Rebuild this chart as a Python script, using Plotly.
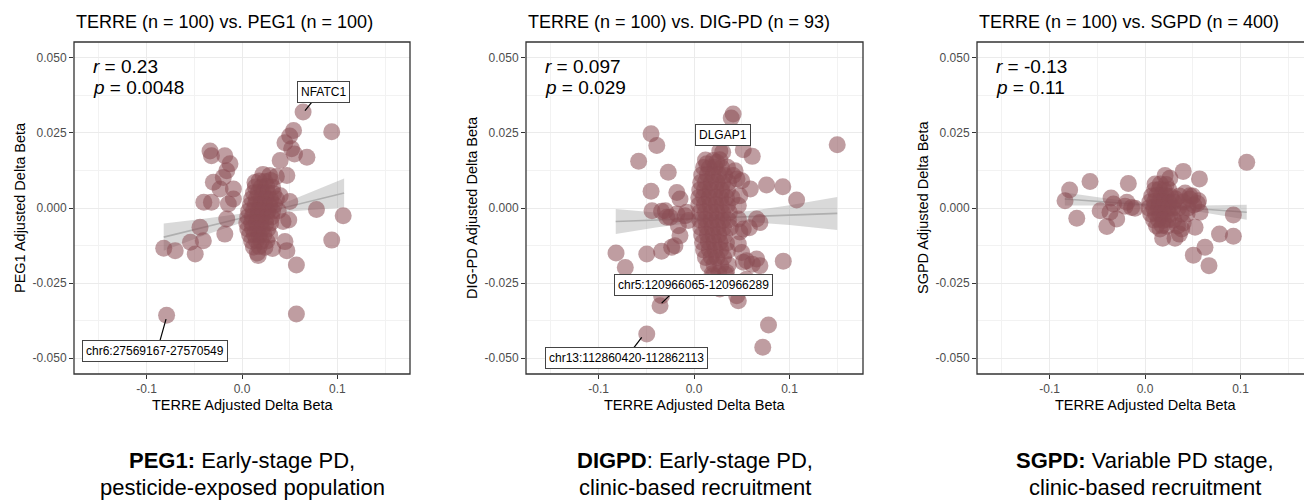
import plotly.graph_objects as go

# ---------------- data ----------------
titles = ["TERRE (n = 100) vs. PEG1 (n = 100)",
          "TERRE (n = 100) vs. DIG-PD (n = 93)",
          "TERRE (n = 100) vs. SGPD (n = 400)"]
y_titles = ["PEG1 Adjusted Delta Beta", "DIG-PD Adjusted Delta Beta", "SGPD Adjusted Delta Beta"]
x_title = "TERRE Adjusted Delta Beta"
r_values = ["0.23", "0.097", "-0.13"]
p_values = ["0.0048", "0.029", "0.11"]
caption_bold = ["PEG1:", "DIGPD", "SGPD:"]
caption_line1 = [" Early-stage PD,", ": Early-stage PD,", " Variable PD stage,"]
caption_line2 = ["pesticide-exposed population", "clinic-based recruitment", "clinic-based recruitment"]

x_tick_vals = [-0.1, 0.0, 0.1]
x_tick_text = ["-0.1", "0.0", "0.1"]
y_tick_vals = [0.05, 0.025, 0.0, -0.025, -0.05]
y_tick_text = ["0.050", "0.025", "0.000", "-0.025", "-0.050"]

# PEG1 panel points (TERRE delta beta, PEG1 delta beta)
p1_points = [
    (0.064, 0.032), (0.094, 0.0254), (0.054, 0.0258), (0.050, 0.024), (0.045, 0.0217),
    (0.052, 0.0197), (0.055, 0.018), (0.068, 0.0169), (0.040, 0.0158), (0.047, 0.0108),
    (-0.0335, 0.019), (-0.032, 0.0174), (-0.018, 0.0174), (-0.0126, 0.0147), (-0.016, 0.0124),
    (-0.0196, 0.0102), (-0.030, 0.0086), (-0.009, 0.0063), (-0.023, 0.0063), (-0.032, 0.0019),
    (-0.040, 0.0019), (-0.0143, 0.0013), (-0.009, 0.003), (-0.016, -0.0037), (-0.018, -0.0087),
    (-0.044, -0.0064), (-0.0405, -0.0109), (-0.054, -0.0114), (-0.049, -0.0153), (-0.070, -0.0142),
    (-0.082, -0.0134), (-0.079, -0.0357), (0.057, -0.0353), (0.057, -0.0190), (0.094, -0.0107),
    (0.078, -0.0005), (0.106, -0.0026), (0.045, -0.0112), (0.047, -0.0142), (0.017, -0.0158),
    (0.032, -0.0135), (0.049, -0.0040), (0.043, -0.0045), (0.050, 0.0022), (0.040, 0.0041),
    (0.036, 0.0105), (0.029, 0.0108), (0.022, 0.0112), (0.0136, 0.0085),
    (0.018, 0.009), (0.024, 0.0088), (0.030, 0.0092),
    (0.014, 0.007), (0.020, 0.0068), (0.026, 0.0072), (0.032, 0.0069),
    (0.012, 0.005), (0.017, 0.0052), (0.022, 0.0049), (0.027, 0.0051), (0.033, 0.0048),
    (0.010, 0.003), (0.015, 0.0032), (0.020, 0.0029), (0.025, 0.0031), (0.030, 0.0028), (0.036, 0.003),
    (0.009, 0.001), (0.014, 0.0012), (0.019, 0.0009), (0.024, 0.0011), (0.029, 0.0008), (0.034, 0.001),
    (0.007, -0.001), (0.012, -0.0008), (0.017, -0.0011), (0.022, -0.0009), (0.027, -0.0012),
    (0.032, -0.001), (0.038, -0.0009),
    (0.006, -0.003), (0.011, -0.0028), (0.016, -0.0031), (0.021, -0.0029), (0.026, -0.0032), (0.031, -0.003),
    (0.005, -0.005), (0.010, -0.0048), (0.015, -0.0051), (0.020, -0.0049), (0.025, -0.0052), (0.030, -0.005),
    (0.006, -0.007), (0.011, -0.0068), (0.016, -0.0071), (0.021, -0.0069), (0.027, -0.007),
    (0.008, -0.009), (0.013, -0.0088), (0.018, -0.0091), (0.023, -0.0089), (0.029, -0.009),
    (0.010, -0.011), (0.015, -0.0108), (0.020, -0.0111), (0.026, -0.011),
    (0.012, -0.013), (0.018, -0.0128), (0.024, -0.0131), (0.016, -0.015),
]

# DIG-PD panel points
p2_points = [
    (0.041, 0.0313), (0.039, 0.0300), (-0.045, 0.0247), (-0.039, 0.0208), (-0.058, 0.0156),
    (-0.027, 0.0119), (-0.045, 0.0056), (-0.018, 0.0052), (-0.0147, 0.003), (-0.044, -0.0009),
    (-0.034, -0.0011), (-0.0286, -0.0031), (-0.0094, -0.0026), (-0.0164, -0.0059), (-0.0147, -0.0092),
    (-0.020, -0.0126), (-0.034, -0.0144), (-0.0495, -0.0153), (-0.0817, -0.015), (-0.072, -0.0198),
    (-0.034, -0.0292), (-0.0356, -0.0326), (-0.0495, -0.042),
    (-0.025, -0.0031), (-0.0077, -0.0014), (-0.006, -0.0042), (-0.0234, -0.0131), (-0.018, -0.002),
    (-0.030, -0.0009),
    (0.030, 0.0186), (0.0516, 0.0194), (0.061, 0.0172), (0.150, 0.0211), (0.076, 0.0077),
    (0.093, 0.0071), (0.1075, 0.0027), (0.059, 0.0063), (0.069, -0.0048), (0.058, -0.0066),
    (0.0935, -0.0177), (0.0656, -0.017), (0.069, -0.0192), (0.0516, -0.0181), (0.0464, -0.012),
    (0.050, -0.0148), (0.048, -0.008), (0.078, -0.039), (0.072, -0.0464), (0.0447, -0.0292),
    (0.0464, -0.0309), (0.027, -0.027), (0.020, -0.0226), (0.034, -0.0214), (0.055, -0.0237),
    (0.041, -0.0248), (0.0133, 0.0147), (0.0238, 0.0152), (0.050, 0.0091), (0.041, 0.0108),
    (0.027, 0.019), (0.043, 0.0124), (0.045, 0.0097), (0.048, 0.0041), (0.0464, 0.0008),
    (0.0464, -0.0037), (0.0656, -0.0037), (0.0516, -0.007), (0.055, -0.0176), (0.061, -0.0187),
    (0.012, 0.016), (0.020, 0.0158), (0.027, 0.0161),
    (0.010, 0.0135), (0.016, 0.0133), (0.022, 0.0136), (0.029, 0.0134), (0.035, 0.0136),
    (0.008, 0.011), (0.014, 0.0112), (0.020, 0.0109), (0.026, 0.0111), (0.032, 0.0108),
    (0.007, 0.0085), (0.012, 0.0087), (0.018, 0.0084), (0.024, 0.0086), (0.030, 0.0083), (0.036, 0.0085),
    (0.006, 0.006), (0.011, 0.0062), (0.017, 0.0059), (0.023, 0.0061), (0.029, 0.0058), (0.035, 0.006),
    (0.005, 0.0035), (0.010, 0.0037), (0.016, 0.0034), (0.022, 0.0036), (0.028, 0.0033), (0.034, 0.0035),
    (0.040, 0.0034),
    (0.005, 0.001), (0.011, 0.0012), (0.017, 0.0009), (0.023, 0.0011), (0.029, 0.0008), (0.035, 0.001),
    (0.006, -0.0015), (0.012, -0.0013), (0.018, -0.0016), (0.024, -0.0014), (0.030, -0.0017), (0.037, -0.0015),
    (0.006, -0.004), (0.012, -0.0038), (0.018, -0.0041), (0.024, -0.0039), (0.030, -0.0042), (0.036, -0.004),
    (0.007, -0.0065), (0.013, -0.0063), (0.019, -0.0066), (0.025, -0.0064), (0.031, -0.0067), (0.038, -0.0065),
    (0.008, -0.009), (0.014, -0.0088), (0.020, -0.0091), (0.026, -0.0089), (0.032, -0.0092),
    (0.009, -0.0115), (0.015, -0.0113), (0.021, -0.0116), (0.027, -0.0114), (0.034, -0.0117),
    (0.010, -0.014), (0.016, -0.0138), (0.022, -0.0141), (0.028, -0.0139), (0.035, -0.0142),
    (0.012, -0.0165), (0.018, -0.0163), (0.024, -0.0166), (0.031, -0.0164),
    (0.015, -0.019), (0.021, -0.0188), (0.028, -0.0191), (0.036, -0.0189),
    (0.019, -0.022), (0.026, -0.0218), (0.033, -0.0221), (0.024, -0.025), (0.036, -0.0252),
]

# SGPD panel points
p3_points = [
    (0.1065, 0.0152), (0.040, 0.0122), (0.057, 0.0097), (0.021, 0.0108), (0.026, 0.0099),
    (-0.0576, 0.0088), (-0.0175, 0.0082), (-0.079, 0.006), (-0.0838, 0.0024), (-0.0715, -0.0034),
    (-0.0356, 0.0033), (-0.033, 0.0013), (-0.047, -0.0009), (-0.0367, -0.0014), (-0.0297, -0.0037),
    (-0.040, -0.0062), (-0.019, 0.0019), (-0.014, 0.0002), (-0.0105, -0.0001), (-0.021, 0.0006),
    (0.0105, 0.008), (0.047, 0.0041), (0.056, 0.0024), (0.0576, -0.0014), (0.0925, -0.0023),
    (0.0925, -0.0094), (0.078, -0.0087), (0.0628, -0.0131), (0.0506, -0.0157), (0.067, -0.0192),
    (0.0524, -0.0064), (0.0384, -0.007), (0.0314, -0.0101), (0.0185, -0.0101), (0.036, -0.0087),
    (0.0157, -0.007),
    (0.016, 0.008), (0.022, 0.0078),
    (0.010, 0.006), (0.015, 0.0062), (0.020, 0.0059), (0.025, 0.0061),
    (0.007, 0.004), (0.012, 0.0042), (0.017, 0.0039), (0.022, 0.0041), (0.027, 0.0038),
    (0.005, 0.002), (0.010, 0.0022), (0.015, 0.0019), (0.020, 0.0021), (0.025, 0.0018), (0.030, 0.002),
    (0.004, 0.0), (0.009, 0.0002), (0.014, -0.0001), (0.019, 0.0001), (0.024, -0.0002), (0.029, 0.0),
    (0.006, -0.002), (0.011, -0.0018), (0.016, -0.0021), (0.021, -0.0019), (0.026, -0.0022),
    (0.009, -0.004), (0.014, -0.0038), (0.019, -0.0041), (0.024, -0.0039),
    (0.012, -0.006), (0.018, -0.0058), (0.023, -0.0061),
    (0.036, 0.004), (0.042, 0.005), (0.047, 0.003), (0.040, 0.002), (0.045, 0.0),
    (0.051, 0.001), (0.035, 0.0), (0.038, -0.002), (0.044, -0.002), (0.032, 0.003),
    (0.050, 0.004), (0.055, 0.0015), (0.030, -0.004), (0.034, -0.006), (0.040, -0.005),
]

# linear fit lines with 95% confidence band
fit_x = [
    [-0.082, -0.04, 0.0, 0.02, 0.05, 0.08, 0.107],
    [-0.082, -0.04, 0.0, 0.02, 0.06, 0.10, 0.150],
    [-0.084, -0.04, 0.0, 0.02, 0.06, 0.1065],
]
fit_y = [
    [-0.0097, -0.0064, -0.0033, -0.0018, 0.0006, 0.0029, 0.0050],
    [-0.0045, -0.0040, -0.0035, -0.0033, -0.0028, -0.0024, -0.0018],
    [0.0030, 0.0020, 0.0011, 0.0006, -0.0003, -0.0014],
]
fit_half = [
    [0.0045, 0.0028, 0.0015, 0.0012, 0.0018, 0.0033, 0.0048],
    [0.0042, 0.0025, 0.0013, 0.0011, 0.0019, 0.0033, 0.0055],
    [0.0022, 0.0012, 0.0006, 0.0005, 0.0011, 0.0025],
]

# labelled probes
probe_labels = [
    ["NFATC1", "chr6:27569167-27570549"],
    ["DLGAP1", "chr5:120966065-120966289", "chr13:112860420-112862113"],
    [],
]

# ---------------- layout geometry ----------------
W, H = 1304, 500
x_domains = [[74 / W, 410 / W], [526 / W, 863 / W], [977 / W, 1.0]]
y_domain = [1 - 374 / H, 1 - 42 / H]
x_ranges = [[-0.176, 0.176], [-0.176, 0.177], [-0.176, 0.1665]]
y_range = [-0.0553, 0.0553]
label_pos = [
    [(0.0855, 0.0387, (0.073, 0.0352, 0.066, 0.0324)),
     (-0.0916, -0.0478, (-0.0859, -0.0442, -0.0796, -0.0370))],
    [(0.0302, 0.0244, None),
     (-0.0007, -0.0255, (-0.0241, -0.0287, -0.0339, -0.0317)),
     (-0.0705, -0.0501, (-0.0636, -0.0468, -0.0548, -0.0431))],
    [],
]

FONT = "Liberation Sans, Arial, Helvetica, sans-serif"
POINT_COLOR = "rgba(138,76,84,0.55)"

fig = go.Figure()
shapes = []
annotations = []

for i in range(3):
    suffix = "" if i == 0 else str(i + 1)
    xa, ya = "x" + suffix, "y" + suffix

    # confidence band
    fx, fy, fh = fit_x[i], fit_y[i], fit_half[i]
    upper = [y + h for y, h in zip(fy, fh)]
    lower = [y - h for y, h in zip(fy, fh)]
    fig.add_trace(go.Scatter(
        x=fx + fx[::-1], y=upper + lower[::-1], mode="lines", fill="toself",
        fillcolor="rgba(160,160,160,0.4)", line=dict(width=0), hoverinfo="skip",
        xaxis=xa, yaxis=ya, showlegend=False))
    fig.add_trace(go.Scatter(
        x=fx, y=fy, mode="lines", line=dict(color="rgba(175,175,175,1)", width=1.6),
        xaxis=xa, yaxis=ya, showlegend=False, hoverinfo="skip"))

    pts = [p1_points, p2_points, p3_points][i]
    fig.add_trace(go.Scatter(
        x=[p[0] for p in pts], y=[p[1] for p in pts], mode="markers",
        marker=dict(size=17, color=POINT_COLOR, line=dict(width=0)),
        xaxis=xa, yaxis=ya, showlegend=False))

    axis_common = dict(showline=False, zeroline=False, ticks="outside", ticklen=4,
                       tickwidth=1, tickcolor="#333333", showgrid=True,
                       gridcolor="#EBEBEB", gridwidth=1,
                       tickfont=dict(family=FONT, size=12, color="#4D4D4D"))
    fig.update_layout(**{
        ("xaxis" + suffix): dict(
            domain=x_domains[i], range=x_ranges[i], anchor=ya,
            tickmode="array", tickvals=x_tick_vals, ticktext=x_tick_text,
            minor=dict(tickvals=[-0.15, -0.05, 0.05, 0.15], showgrid=True,
                       gridcolor="#F2F2F2", gridwidth=0.6, ticks=""),
            **axis_common),
        ("yaxis" + suffix): dict(
            domain=y_domain, range=y_range, anchor=xa,
            tickmode="array", tickvals=y_tick_vals, ticktext=y_tick_text,
            minor=dict(tickvals=[-0.0375, -0.0125, 0.0125, 0.0375], showgrid=True,
                       gridcolor="#F2F2F2", gridwidth=0.6, ticks=""),
            **axis_common),
    })

    # panel border
    if i < 2:
        shapes.append(dict(type="rect", xref=xa + " domain", yref=ya + " domain",
                           x0=0, x1=1, y0=0, y1=1, line=dict(color="#333333", width=1.3),
                           layer="above"))
    else:
        shapes.append(dict(type="path", xref=xa + " domain", yref=ya + " domain",
                           path="M 1.2,1 L 0,1 L 0,0 L 1.2,0",
                           line=dict(color="#333333", width=1.3), layer="above"))

    x0p, x1p = x_domains[i][0] * W, (x_domains[i][0] * W + 336) if i == 2 else x_domains[i][1] * W
    cx = (x0p + x1p) / 2 / W

    # title
    annotations.append(dict(text=titles[i], xref="paper", yref="paper",
                            x=x_domains[i][0], y=1 - 22 / H, xanchor="left", yanchor="middle",
                            showarrow=False, font=dict(family=FONT, size=18, color="#000000")))
    # axis titles
    annotations.append(dict(text=x_title, xref="paper", yref="paper", x=cx, y=1 - 405 / H,
                            xanchor="center", yanchor="middle", showarrow=False,
                            font=dict(family=FONT, size=14.5, color="#000000")))
    annotations.append(dict(text=y_titles[i], xref="paper", yref="paper",
                            x=(x_domains[i][0] * W - 54) / W, y=1 - 208 / H, textangle=-90,
                            xanchor="center", yanchor="middle", showarrow=False,
                            font=dict(family=FONT, size=14.5, color="#000000")))
    # r / p
    annotations.append(dict(text="<i>r</i> = " + r_values[i], xref=xa, yref=ya,
                            x=-0.158, y=0.0470, xanchor="left", yanchor="middle",
                            showarrow=False, font=dict(family=FONT, size=19, color="#000000")))
    annotations.append(dict(text="<i>p</i> = " + p_values[i], xref=xa, yref=ya,
                            x=-0.158, y=0.0403, xanchor="left", yanchor="middle",
                            showarrow=False, font=dict(family=FONT, size=19, color="#000000")))
    # probe labels
    for name, (lx, ly, seg) in zip(probe_labels[i], label_pos[i]):
        if seg is not None:
            shapes.append(dict(type="line", xref=xa, yref=ya, x0=seg[0], y0=seg[1],
                               x1=seg[2], y1=seg[3], line=dict(color="#000000", width=1.2),
                               layer="above"))
        annotations.append(dict(text=name, xref=xa, yref=ya, x=lx, y=ly,
                                xanchor="center", yanchor="middle", showarrow=False,
                                bgcolor="#FFFFFF", bordercolor="#444444", borderwidth=1,
                                borderpad=3, font=dict(family=FONT, size=12, color="#000000")))
    # captions
    annotations.append(dict(text="<b>" + caption_bold[i] + "</b>" + caption_line1[i],
                            xref="paper", yref="paper", x=cx, y=1 - 460.5 / H,
                            xanchor="center", yanchor="middle", showarrow=False,
                            font=dict(family=FONT, size=22, color="#000000")))
    annotations.append(dict(text=caption_line2[i], xref="paper", yref="paper", x=cx,
                            y=1 - 487.5 / H, xanchor="center", yanchor="middle", showarrow=False,
                            font=dict(family=FONT, size=22, color="#000000")))

fig.update_layout(width=W, height=H, margin=dict(l=0, r=0, t=0, b=0),
                  paper_bgcolor="#FFFFFF", plot_bgcolor="#FFFFFF", showlegend=False,
                  shapes=shapes, annotations=annotations)

fig.write_html("out.html")
